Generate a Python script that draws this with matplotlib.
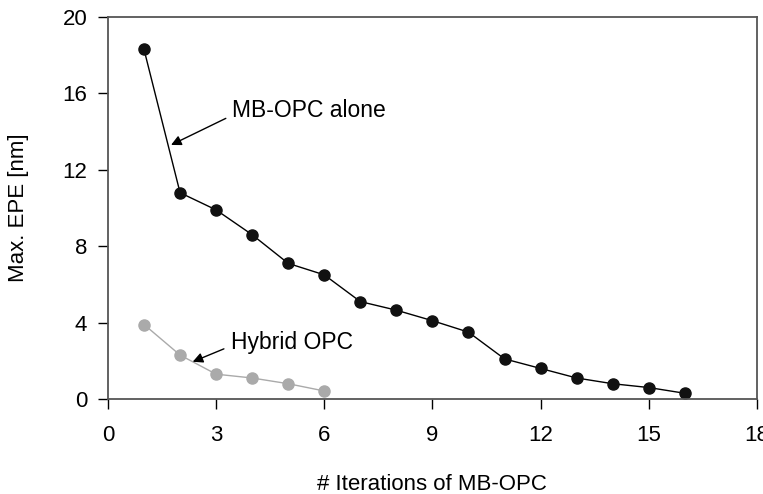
import matplotlib
matplotlib.use("Agg")
from matplotlib import pyplot as plt

plt.rcParams['font.family'] = ['Liberation Sans', 'DejaVu Sans']

# Max EPE per iteration
iters_mb = [1, 2, 3, 4, 5, 6, 7, 8, 9, 10, 11, 12, 13, 14, 15, 16]
epe_mb = [18.3, 10.8, 9.9, 8.6, 7.1, 6.5, 5.1, 4.65, 4.1, 3.5, 2.1, 1.6, 1.1, 0.8, 0.6, 0.3]
iters_hy = [1, 2, 3, 4, 5, 6]
epe_hy = [3.9, 2.3, 1.3, 1.1, 0.8, 0.42]
xticks = [0, 3, 6, 9, 12, 15, 18]
yticks = [0, 4, 8, 12, 16, 20]

fig = plt.figure(figsize=(7.63, 4.94), dpi=100)
ax = fig.add_axes([0.1415, 0.1923, 0.8505, 0.7733])

ax.plot(iters_mb, epe_mb, '-o', color='black', markerfacecolor='#111111',
        markeredgecolor='#111111', markersize=8, linewidth=1.0, clip_on=False)
ax.plot(iters_hy, epe_hy, '-o', color='#aaaaaa', markerfacecolor='#aaaaaa',
        markeredgecolor='#aaaaaa', markersize=8, linewidth=1.0, clip_on=False)

ax.set_xlim(0, 18)
ax.set_ylim(0, 20)
ax.set_xticks(xticks)
ax.set_yticks(yticks)
ax.tick_params(direction='out', length=7, width=1.0, labelsize=16)
ax.tick_params(axis='x', pad=12)
ax.tick_params(axis='y', pad=8)
for s in ax.spines.values():
    s.set_color('#555555')
    s.set_linewidth(1.3)

ax.set_xlabel('# Iterations of MB-OPC', fontsize=16, labelpad=20)
ax.set_ylabel('Max. EPE [nm]', fontsize=16, labelpad=24)

ax.annotate('MB-OPC alone', xy=(1.75, 13.3), xytext=(3.45, 15.1),
            fontsize=16.5, va='center', ha='left',
            arrowprops=dict(arrowstyle='-|>', color='black', lw=1.0,
                            shrinkA=3, shrinkB=0, mutation_scale=15,
                            relpos=(0, 0.3)))
ax.annotate('Hybrid OPC', xy=(2.35, 1.95), xytext=(3.4, 2.95),
            fontsize=16.5, va='center', ha='left',
            arrowprops=dict(arrowstyle='-|>', color='black', lw=1.0,
                            shrinkA=3, shrinkB=0, mutation_scale=15,
                            relpos=(0, 0.35)))

fig.savefig('out.png', dpi=100)
